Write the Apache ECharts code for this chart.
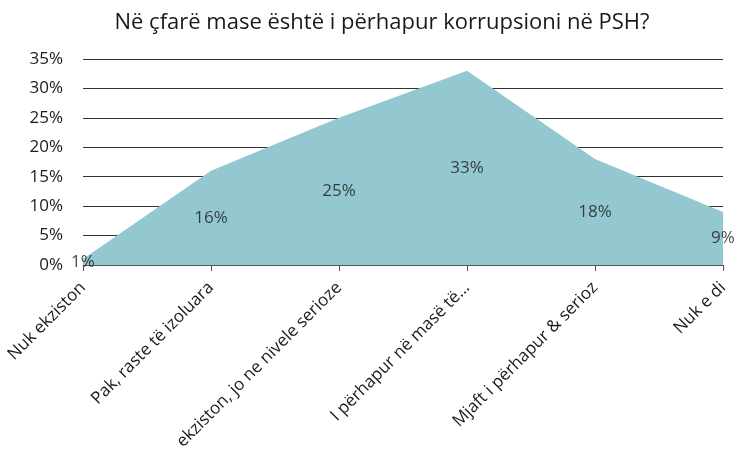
<!DOCTYPE html>
<html>
<head>
<meta charset="utf-8">
<script src="https://cdn.jsdelivr.net/npm/echarts@6/dist/echarts.min.js"></script>
<style>
  html, body { margin: 0; padding: 0; background: #fff; }
  #chartRoot { width: 737px; height: 450px; }
</style>
</head>
<body>
<div id="chartRoot"></div>
<script>
// kategoritë dhe vlerat (përqindje)
const categories = [
    "Nuk ekziston",
    "Pak, raste të izoluara",
    "ekziston, jo ne nivele serioze",
    "I përhapur në masë të…",
    "Mjaft i përhapur & serioz",
    "Nuk e di"
];
const values = [1, 16, 25, 33, 18, 9];
const yTicks = [0, 5, 10, 15, 20, 25, 30, 35];

const fontFamily = "'Open Sans', 'Noto Sans', sans-serif";

// etiketat vendosen në mes të lartësisë së zonës
const labelPoints = values.map((v, i) => [i, v / 2]);

const myChart = echarts.init(document.querySelector("#chartRoot"));
const option = {
    animation: false,
    title: {
        text: "Në çfarë mase është i përhapur korrupsioni në PSH?",
        left: 377,
        textAlign: "center",
        top: 7,
        textStyle: {
            color: "#1a1a1a",
            fontSize: 22,
            fontWeight: "normal",
            fontFamily
        }
    },
    grid: {
        left: 83,
        right: 14,
        top: 59,
        bottom: 185,
        outerBoundsMode: "none"
    },
    xAxis: {
        type: "category",
        data: categories,
        boundaryGap: false,
        axisLine: { lineStyle: { color: "#555", width: 1 } },
        axisTick: { show: true, alignWithLabel: true, length: 6, lineStyle: { color: "#555" } },
        axisLabel: {
            rotate: 45,
            interval: 0,
            margin: 20,
            color: "#1a1a1a",
            fontSize: 17,
            fontFamily
        }
    },
    yAxis: {
        type: "value",
        min: 0,
        max: 35,
        interval: 5,
        axisLine: { show: false },
        axisTick: { show: false },
        axisLabel: {
            formatter: v => yTicks.includes(v) ? v + "%" : "",
            margin: 20,
            color: "#1a1a1a",
            fontSize: 17,
            fontFamily
        },
        splitLine: { lineStyle: { color: "#333", width: 1 } }
    },
    series: [
        {
            type: "line",
            data: values,
            symbol: "none",
            lineStyle: { width: 0, color: "#93c8d0" },
            itemStyle: { color: "#93c8d0" },
            areaStyle: { color: "#93c8d0", opacity: 1 },
            z: 1
        },
        {
            type: "scatter",
            data: labelPoints,
            symbolSize: 0,
            silent: true,
            label: {
                show: true,
                position: "inside",
                formatter: p => values[p.dataIndex] + "%",
                color: "#1a1a1a",
                fontSize: 17,
                fontFamily
            },
            z: 5
        }
    ]
};
myChart.setOption(option, true);
</script>
</body>
</html>
